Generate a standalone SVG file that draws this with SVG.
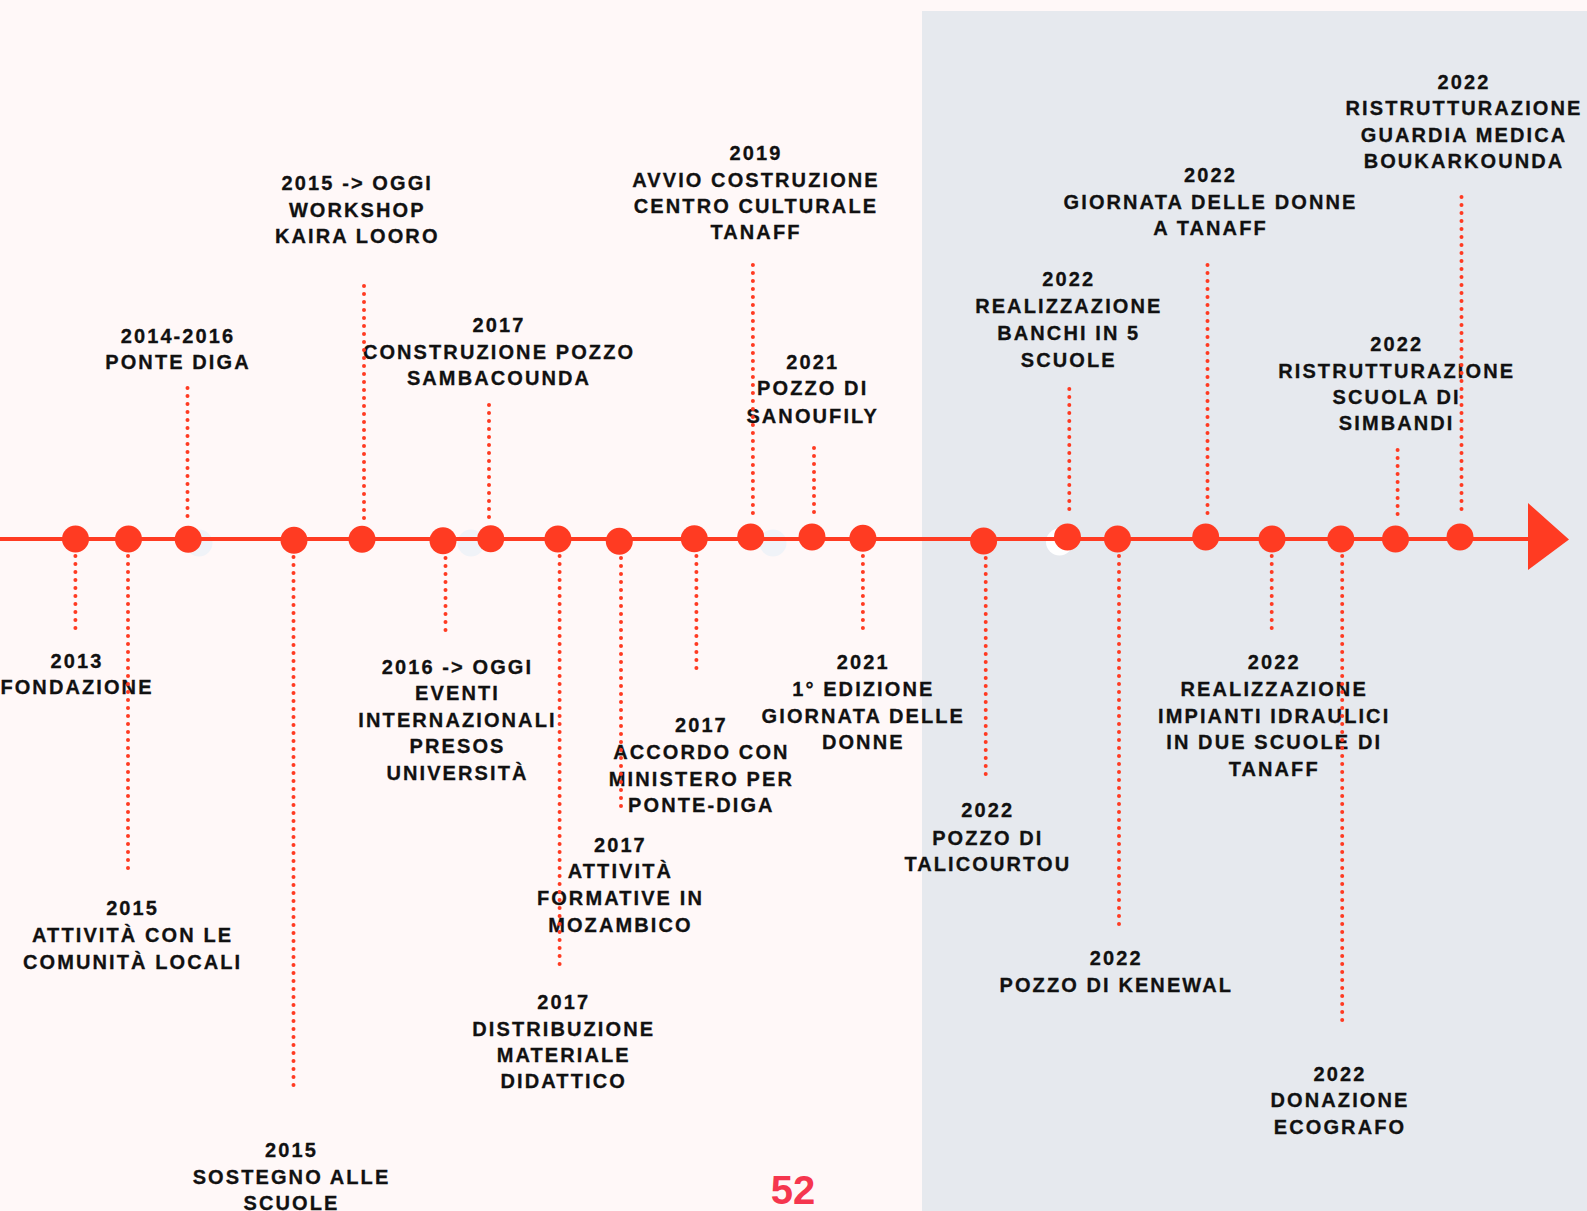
<svg xmlns="http://www.w3.org/2000/svg" width="1587" height="1211" viewBox="0 0 1587 1211">
<defs>
<style>
.t{font-family:"Liberation Sans",Arial,sans-serif;font-weight:700;font-size:20px;letter-spacing:2.1px;fill:#111111;stroke:#111111;stroke-width:0.3px;text-anchor:middle}
.dot{fill:#ff3b22}
.dl{stroke:#ff3b22;stroke-width:4;stroke-linecap:round;stroke-dasharray:0 8;fill:none}
.ghost{fill:#f0f3f8}
</style>
</defs>
<rect x="0" y="0" width="1587" height="1211" fill="#fff8f8"/>
<rect x="922" y="11" width="665" height="1200" fill="#e6e9ee"/>
<g id="ghosts">
<circle class="ghost" cx="199" cy="543" r="13.5"/>
<circle class="ghost" cx="471" cy="543" r="13.5"/>
<circle class="ghost" cx="773" cy="543" r="13.5"/>
<circle cx="1059.5" cy="542" r="13.5" fill="#ffffff"/>
</g>
<g id="timeline">
<line x1="0" y1="539" x2="1530" y2="539" stroke="#ff3b22" stroke-width="4"/>
<polygon points="1528,503 1569,539.5 1528,570" fill="#ff3b22"/>
</g>
<g id="n1"><circle class="dot" cx="75.5" cy="539" r="13.5"/><text class="t" x="77"><tspan x="77" y="668">2013</tspan><tspan x="77" y="694.2">FONDAZIONE</tspan></text></g>
<g id="n2"><circle class="dot" cx="128.5" cy="539" r="13.5"/><text class="t"><tspan x="132.6" y="915.4">2015</tspan><tspan x="132.6" y="941.7">ATTIVITÀ CON LE</tspan><tspan x="132.6" y="969">COMUNITÀ LOCALI</tspan></text></g>
<g id="n3"><circle class="dot" cx="188.2" cy="539.3" r="13.5"/><text class="t"><tspan x="178" y="343">2014-2016</tspan><tspan x="178" y="369.3">PONTE DIGA</tspan></text></g>
<g id="n4"><circle class="dot" cx="294" cy="540.3" r="13.5"/><text class="t"><tspan x="291.5" y="1157.3">2015</tspan><tspan x="291.5" y="1183.6">SOSTEGNO ALLE</tspan><tspan x="291.5" y="1209.9">SCUOLE</tspan></text></g>
<g id="n5"><circle class="dot" cx="362" cy="539.3" r="13.5"/><text class="t"><tspan x="357.3" y="189.7">2015 -&gt; OGGI</tspan><tspan x="357.3" y="217">WORKSHOP</tspan><tspan x="357.3" y="243.3">KAIRA LOORO</tspan></text></g>
<g id="n6"><circle class="dot" cx="443" cy="540.7" r="13.5"/><text class="t"><tspan x="457.5" y="673.5">2016 -&gt; OGGI</tspan><tspan x="457.5" y="699.8">EVENTI</tspan><tspan x="457.5" y="727.1">INTERNAZIONALI</tspan><tspan x="457.5" y="753.4">PRESOS</tspan><tspan x="457.5" y="779.7">UNIVERSITÀ</tspan></text></g>
<g id="n7"><circle class="dot" cx="490.7" cy="538.7" r="13.5"/><text class="t"><tspan x="499" y="332.4">2017</tspan><tspan x="499" y="358.7">CONSTRUZIONE POZZO</tspan><tspan x="499" y="385">SAMBACOUNDA</tspan></text></g>
<g id="n8"><circle class="dot" cx="557.9" cy="539" r="13.5"/><text class="t"><tspan x="563.7" y="1008.5">2017</tspan><tspan x="563.7" y="1035.8">DISTRIBUZIONE</tspan><tspan x="563.7" y="1062.1">MATERIALE</tspan><tspan x="563.7" y="1088.4">DIDATTICO</tspan></text></g>
<g id="n9"><circle class="dot" cx="619.3" cy="541.3" r="13.5"/><text class="t"><tspan x="620.4" y="851.6">2017</tspan><tspan x="620.4" y="877.9">ATTIVITÀ</tspan><tspan x="620.4" y="905.2">FORMATIVE IN</tspan><tspan x="620.4" y="931.5">MOZAMBICO</tspan></text></g>
<g id="n10"><circle class="dot" cx="694.3" cy="538.7" r="13.5"/><text class="t"><tspan x="701.4" y="732.2">2017</tspan><tspan x="701.4" y="758.5">ACCORDO CON</tspan><tspan x="701.4" y="785.8">MINISTERO PER</tspan><tspan x="701.4" y="812.1">PONTE-DIGA</tspan></text></g>
<g id="n11"><circle class="dot" cx="750.7" cy="537" r="13.5"/><text class="t"><tspan x="756" y="160.3">2019</tspan><tspan x="756" y="186.6">AVVIO COSTRUZIONE</tspan><tspan x="756" y="212.9">CENTRO CULTURALE</tspan><tspan x="756" y="239.3">TANAFF</tspan></text></g>
<g id="n12"><circle class="dot" cx="812" cy="537" r="13.5"/><text class="t"><tspan x="812.7" y="368.8">2021</tspan><tspan x="812.7" y="395.1">POZZO DI</tspan><tspan x="812.7" y="422.5">SANOUFILY</tspan></text></g>
<g id="n13"><circle class="dot" cx="862.9" cy="538.3" r="13.5"/><text class="t"><tspan x="863.3" y="669.4">2021</tspan><tspan x="863.3" y="695.7">1° EDIZIONE</tspan><tspan x="863.3" y="723">GIORNATA DELLE</tspan><tspan x="863.3" y="749.4">DONNE</tspan></text></g>
<g id="n14"><circle class="dot" cx="983.6" cy="541" r="13.5"/><text class="t"><tspan x="987.8" y="817.2">2022</tspan><tspan x="987.8" y="844.5">POZZO DI</tspan><tspan x="987.8" y="870.8">TALICOURTOU</tspan></text></g>
<g id="n15"><circle class="dot" cx="1067.5" cy="537" r="13.5"/><text class="t"><tspan x="1068.8" y="285.8">2022</tspan><tspan x="1068.8" y="313.2">REALIZZAZIONE</tspan><tspan x="1068.8" y="339.5">BANCHI IN 5</tspan><tspan x="1068.8" y="366.8">SCUOLE</tspan></text></g>
<g id="n16"><circle class="dot" cx="1117.5" cy="539" r="13.5"/><text class="t"><tspan x="1116.3" y="964.9">2022</tspan><tspan x="1116.3" y="992.3">POZZO DI KENEWAL</tspan></text></g>
<g id="n17"><circle class="dot" cx="1205.7" cy="537" r="13.5"/><text class="t"><tspan x="1210.5" y="181.6">2022</tspan><tspan x="1210.5" y="208.9">GIORNATA DELLE DONNE</tspan><tspan x="1210.5" y="235.2">A TANAFF</tspan></text></g>
<g id="n18"><circle class="dot" cx="1272" cy="539" r="13.5"/><text class="t"><tspan x="1274.2" y="669">2022</tspan><tspan x="1274.2" y="696.2">REALIZZAZIONE</tspan><tspan x="1274.2" y="722.6">IMPIANTI IDRAULICI</tspan><tspan x="1274.2" y="748.9">IN DUE SCUOLE DI</tspan><tspan x="1274.2" y="776.2">TANAFF</tspan></text></g>
<g id="n19"><circle class="dot" cx="1340.8" cy="539" r="13.5"/><text class="t"><tspan x="1340" y="1080.8">2022</tspan><tspan x="1340" y="1107.2">DONAZIONE</tspan><tspan x="1340" y="1133.5">ECOGRAFO</tspan></text></g>
<g id="n20"><circle class="dot" cx="1395.5" cy="539" r="13.5"/><text class="t"><tspan x="1396.7" y="351.1">2022</tspan><tspan x="1396.7" y="378.4">RISTRUTTURAZIONE</tspan><tspan x="1396.7" y="403.7">SCUOLA DI</tspan><tspan x="1396.7" y="430.1">SIMBANDI</tspan></text></g>
<g id="n21"><circle class="dot" cx="1460" cy="537" r="13.5"/><text class="t"><tspan x="1464" y="89">2022</tspan><tspan x="1464" y="115.3">RISTRUTTURAZIONE</tspan><tspan x="1464" y="141.6">GUARDIA MEDICA</tspan><tspan x="1464" y="167.9">BOUKARKOUNDA</tspan></text></g>
<g id="connectors">
<line class="dl" x1="75.4" y1="556" x2="75.4" y2="632"/>
<line class="dl" x1="128" y1="556" x2="128" y2="870"/>
<line class="dl" x1="187.5" y1="388" x2="187.5" y2="524"/>
<line class="dl" x1="293.5" y1="557" x2="293.5" y2="1088"/>
<line class="dl" x1="364" y1="286" x2="364" y2="526"/>
<line class="dl" x1="445.5" y1="558" x2="445.5" y2="632"/>
<line class="dl" x1="489" y1="405" x2="489" y2="525"/>
<line class="dl" x1="559.6" y1="556" x2="559.6" y2="969"/>
<line class="dl" x1="621" y1="558" x2="621" y2="812"/>
<line class="dl" x1="696.4" y1="556" x2="696.4" y2="671"/>
<line class="dl" x1="752.9" y1="265" x2="752.9" y2="521"/>
<line class="dl" x1="814" y1="448" x2="814" y2="520"/>
<line class="dl" x1="862.9" y1="556" x2="862.9" y2="629"/>
<line class="dl" x1="985.7" y1="558" x2="985.7" y2="776"/>
<line class="dl" x1="1069.3" y1="389" x2="1069.3" y2="517"/>
<line class="dl" x1="1119" y1="556" x2="1119" y2="926"/>
<line class="dl" x1="1207.5" y1="265" x2="1207.5" y2="521"/>
<line class="dl" x1="1271.7" y1="556" x2="1271.7" y2="629"/>
<line class="dl" x1="1342.2" y1="556" x2="1342.2" y2="1022"/>
<line class="dl" x1="1397.6" y1="450" x2="1397.6" y2="522"/>
<line class="dl" x1="1461.5" y1="197" x2="1461.5" y2="517"/>
</g>
<text x="793" y="1204" style="font-family:'Liberation Sans',Arial,sans-serif;font-weight:700;font-size:40px;fill:#f5364e;text-anchor:middle">52</text>
</svg>
